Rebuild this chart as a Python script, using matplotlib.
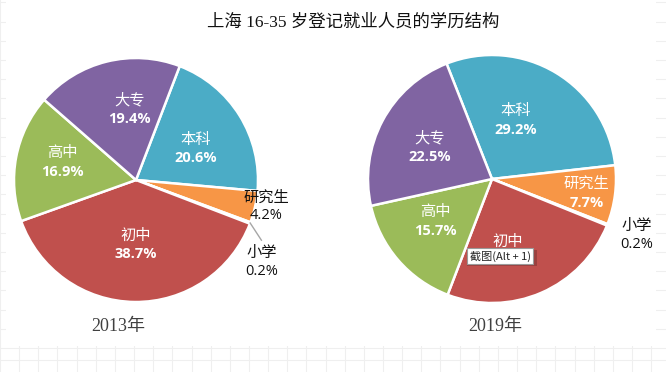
import numpy as np
import matplotlib.pyplot as plt
from matplotlib.patches import Rectangle

plt.rcParams['font.family'] = ['Noto Sans CJK SC', 'DejaVu Sans']

# data
categories = ['本科', '研究生', '小学', '初中', '高中', '大专']
share_2013 = [20.6, 4.2, 0.2, 38.7, 16.9, 19.4]
share_2019 = [29.2, 7.7, 0.2, 24.7, 15.7, 22.5]
years = ['2013年', '2019年']
title = '上海 16-35 岁登记就业人员的学历结构'

colors = ['#4BACC6', '#F79646', '#4F81BD', '#C0504D', '#9BBB59', '#8064A2']

W, H = 666, 372
fig = plt.figure(figsize=(W / 100, H / 100), dpi=100)
ax = fig.add_axes([0, 0, 1, 1])


def py(y):
    # image row -> axes y (y axis points up)
    return H - y


# faint spreadsheet grid behind the chart area
for x in np.arange(0, W, 19.15):
    ax.plot([x, x], [0, H], color='#efefef', lw=0.8, zorder=0)
for y in list(np.arange(348, 0, -19.2)) + [360]:
    ax.plot([0, W], [py(y), py(y)], color='#efefef', lw=0.8, zorder=0)
ax.add_patch(Rectangle((6, py(346)), 650, 346, facecolor='white', edgecolor='none', zorder=0.5))


def draw_pie(values, center, radius, start, dist, shift, inside, leader=False):
    wedges, _ = ax.pie(values, colors=colors, startangle=start, counterclock=False,
                       center=center, radius=radius, frame=True,
                       wedgeprops=dict(edgecolor='white', linewidth=1.8))
    for w in wedges:
        w.set_zorder(2)
    for i, w in enumerate(wedges):
        mid = (w.theta1 + w.theta2) / 2
        ang = np.deg2rad(mid + shift[i])
        x = center[0] + dist[i] * radius * np.cos(ang)
        y = center[1] + dist[i] * radius * np.sin(ang)
        col = 'white' if inside[i] else '#111111'
        ax.text(x, y + 9.5, categories[i], color=col, fontsize=11,
                ha='center', va='center', zorder=4)
        ax.text(x, y - 9.5, f'{values[i]:.1f}%', color=col, fontsize=10.5,
                fontweight='bold' if inside[i] else 'normal',
                family=['Open Sans', 'DejaVu Sans'],
                ha='center', va='center', zorder=4)
        if leader and i == 2:
            a0 = np.deg2rad(mid)
            a1 = np.deg2rad(mid - 5)
            ax.plot([center[0] + radius * np.cos(a0), center[0] + 1.14 * radius * np.cos(a1)],
                    [center[1] + radius * np.sin(a0), center[1] + 1.14 * radius * np.sin(a1)],
                    color='#a6a6a6', lw=1, zorder=3)
    return wedges


# 2013
draw_pie(share_2013, (136, py(180)), 122, 69,
         dist=[0.55, 1.09, 1.23, 0.53, 0.62, 0.58],
         shift=[-4, 1.3, -12.4, 0, -3, -9],
         inside=[True, False, False, True, True, True], leader=True)

# 2019
draw_pie(share_2019, (492, py(179)), 124, 111.5,
         dist=[0.51, 0.77, 1.25, 0.59, 0.57, 0.56],
         shift=[9, -1, 0.4, -10.8, -4, 1.4],
         inside=[True, True, False, True, True, True])

ax.text(W / 2 + 20, py(22), title, fontsize=12.5, color='#111111',
        family=['Liberation Serif', 'Noto Sans CJK SC'], ha='center', va='center', zorder=5)
ax.text(118, py(327), years[0], fontsize=13, color='#404040',
        family=['Liberation Serif', 'Noto Sans CJK SC'], ha='center', va='center', zorder=5)
ax.text(495, py(326), years[1], fontsize=13, color='#404040',
        family=['Liberation Serif', 'Noto Sans CJK SC'], ha='center', va='center', zorder=5)

# screenshot tooltip overlay (with a small shadow)
ax.add_patch(Rectangle((467, py(266)), 70, 16, facecolor='#00000030', edgecolor='none', zorder=5.5))
ax.text(500, py(256), '截图(Alt + 1)', fontsize=8, color='#222222',
        ha='center', va='center', zorder=6,
        bbox=dict(boxstyle='square,pad=0.25', facecolor='white', edgecolor='#9a9a9a', lw=0.8))

ax.set_xlim(0, W)
ax.set_ylim(0, H)
ax.set_aspect('auto')
ax.axis('off')

fig.savefig('out.png', dpi=100)
